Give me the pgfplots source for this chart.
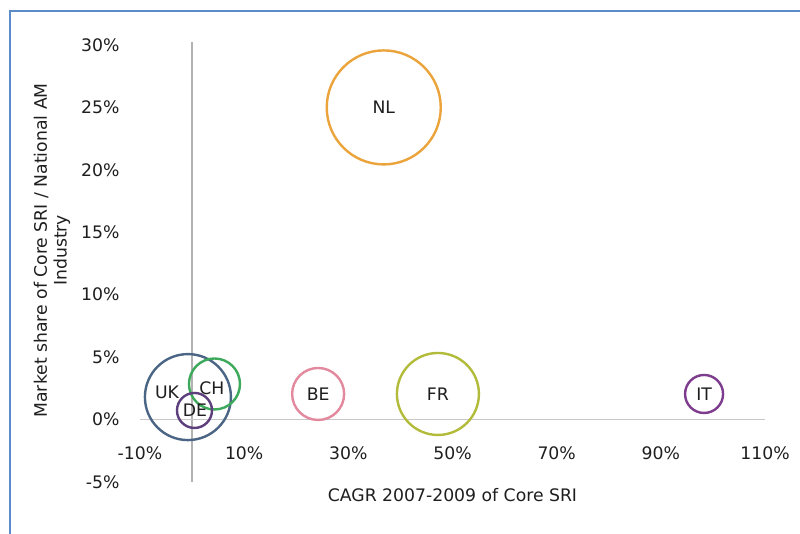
\documentclass[border=0pt]{standalone}
\usepackage{fontspec}
\setmainfont{DejaVu Sans}
\usepackage{pgfplots}
\pgfplotsset{compat=1.18}
\usepackage{pgfplotstable}
\definecolor{framec}{HTML}{5B8BC9}
\definecolor{txt}{HTML}{1E1E1E}
\definecolor{nlc}{HTML}{EBA43B}
\definecolor{frc}{HTML}{B3BB3A}
\definecolor{bec}{HTML}{E3899E}
\definecolor{itc}{HTML}{7E3C8E}
\definecolor{ukc}{HTML}{4B6584}
\definecolor{chc}{HTML}{3DAA5B}
\definecolor{dec}{HTML}{5D3F7E}
\pgfplotstableread{
x y label
36.8 25.0 NL
47.2 2.05 FR
24.2 2.05 BE
98.3 2.05 IT
-4.8 2.2 UK
3.8 2.5 CH
0.55 0.75 DE
}\labels
\begin{document}
\begin{tikzpicture}[x=1bp,y=1bp]
\useasboundingbox (0,0) rectangle (800,534);
\fill[white] (0,0) rectangle (800,534);
\draw[framec, line width=2bp] (10,-2) -- (10,523) -- (802,523);
\begin{axis}[
  at={(140bp,52bp)}, anchor=south west,
  scale only axis, width=625bp, height=437bp,
  xmin=-10, xmax=110, ymin=-5, ymax=30,
  clip=false,
  axis line style={draw=none},
  tick style={draw=none},
  font=\fontsize{17.3}{20}\selectfont\color{txt},
  xtick={-10,10,30,50,70,90,110},
  xticklabels={-10\%,10\%,30\%,50\%,70\%,90\%,110\%},
  ytick={-5,0,5,10,15,20,25,30},
  yticklabels={-5\%,0\%,5\%,10\%,15\%,20\%,25\%,30\%},
  xticklabel style={anchor=center, yshift=29bp},
  yticklabel style={anchor=east, xshift=-17bp},
  xlabel={CAGR 2007-2009 of Core SRI},
  ylabel={Market share of Core SRI / National AM\\Industry},
  xlabel style={at={(axis description cs:0.5,0)}, anchor=center, yshift=-13bp},
  ylabel style={at={(axis description cs:0,0.53)}, anchor=center, yshift=88bp, align=center},
]
\draw[black!30, line width=1.5bp] (axis cs:0,-5) -- (axis cs:0,30.2);
\draw[black!22, line width=1.5bp] (axis cs:-10,0) -- (axis cs:110,0);
\addplot[only marks, mark=o, mark size=57bp, mark options={draw=nlc, line width=2.4bp}] coordinates {(36.8,25.0)};
\addplot[only marks, mark=o, mark size=41bp, mark options={draw=frc, line width=2.4bp}] coordinates {(47.2,2.05)};
\addplot[only marks, mark=o, mark size=26bp, mark options={draw=bec, line width=2.4bp}] coordinates {(24.2,2.05)};
\addplot[only marks, mark=o, mark size=19bp, mark options={draw=itc, line width=2.4bp}] coordinates {(98.3,2.05)};
\addplot[only marks, mark=o, mark size=43bp, mark options={draw=ukc, line width=2.4bp}] coordinates {(-0.8,1.8)};
\addplot[only marks, mark=o, mark size=25.5bp, mark options={draw=chc, line width=2.4bp}] coordinates {(4.3,2.85)};
\addplot[only marks, mark=o, mark size=17.5bp, mark options={draw=dec, line width=2.4bp}] coordinates {(0.46,0.73)};
\addplot[only marks, mark=none, nodes near coords, point meta=explicit symbolic,
  nodes near coords style={anchor=center, font=\fontsize{17.3}{20}\selectfont\color{txt}}]
  table[meta=label] {\labels};
\end{axis}
\end{tikzpicture}
\end{document}
